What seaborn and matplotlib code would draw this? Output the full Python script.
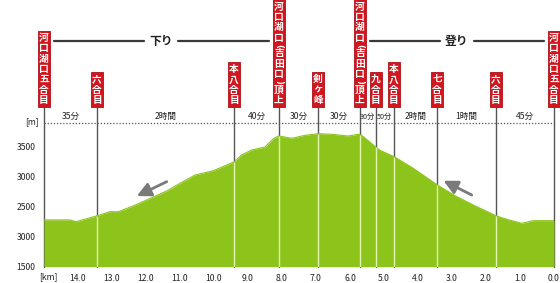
import numpy as np
import matplotlib
matplotlib.use("Agg")
import matplotlib.pyplot as plt
import matplotlib.patches as mpatches
import seaborn as sns
import pandas as pd

# ---------------- data ----------------
profile_km = [15.0, 14.24, 14.06, 13.43, 13.06, 12.81, 12.38, 11.39, 11.0, 10.56,
              10.02, 9.40, 9.19, 8.89, 8.50, 8.26, 8.16, 8.09, 7.76, 7.67, 7.32,
              6.93, 6.54, 6.05, 5.76, 5.66, 5.36, 5.12, 4.70, 4.14, 3.43, 2.86,
              2.27, 1.71, 1.39, 0.95, 0.61, 0.0]
profile_elev = [2280, 2280, 2250, 2350, 2417, 2417, 2512, 2762, 2890, 3028,
                3100, 3250, 3362, 3445, 3495, 3630, 3662, 3678, 3645, 3645, 3690,
                3717, 3707, 3678, 3707, 3690, 3550, 3440, 3333, 3140, 2862, 2667,
                2500, 2350, 2290, 2223, 2267, 2267]

station_km = [15.0, 13.44, 9.41, 8.09, 6.94, 5.71, 5.24, 4.71, 3.44, 1.71, 0.0]
station_names = ["河口湖口五合目", "六合目", "本八合目", "河口湖口(吉田口)頂上", "剣ヶ峰",
                 "河口湖口(吉田口)頂上", "九合目", "本八合目", "七合目", "六合目", "河口湖口五合目"]
segment_times = ["35分", "2時間", "40分", "30分", "30分", "30分", "50分", "2時間", "1時間", "45分"]

direction_labels = ["下り", "登り"]
direction_spans = [(0, 3), (5, 10)]  # station index ranges

arrow_tail_km = [11.39, 2.42]
arrow_tail_elev = [2917, 2695]
arrow_head_km = [12.27, 3.25]
arrow_head_elev = [2678, 2933]

y_ticks = [1500, 2000, 2500, 3000, 3500]
y_tick_labels = ["1500", "3000", "2500", "3000", "3500"]
x_ticks = list(range(0, 15))
x_tick_labels = [f"{v:.1f}" for v in x_ticks]

# ---------------- style ----------------
sns.set_theme(style="white")
plt.rcParams['font.family'] = ['Noto Sans CJK JP', 'DejaVu Sans']

GREEN = "#8cc41c"
PALE = "#e4f3b0"
RED = "#d0161e"
DARK = "#3a3a3a"

W, H = 560, 283
AX_L, AX_R, AX_T, AX_B = 44.0, 554.0, 122.7, 266.7
fig = plt.figure(figsize=(W / 100, H / 100), dpi=100)
ax = fig.add_axes([AX_L / W, (H - AX_B) / H, (AX_R - AX_L) / W, (AX_B - AX_T) / H])
ax.set_xlim(15, 0)
ax.set_ylim(1500, 3900)
for s in ax.spines.values():
    s.set_visible(False)

def ypx(p):
    return (AX_B - p) / (AX_B - AX_T)

xt = ax.get_xaxis_transform()
KM_PER_PX = 15.0 / (AX_R - AX_L)

df = pd.DataFrame({"km": profile_km, "elev": profile_elev})

# dark station lines (full height, under the fill)
SIGN_BOTTOM = 107.3
for k in station_km:
    ax.plot([k, k], [0, ypx(SIGN_BOTTOM)], transform=xt, color="#555555", lw=1.0,
            clip_on=False, zorder=1)

# profile
ax.fill_between(df["km"], 1500, df["elev"], color=GREEN, lw=0, zorder=2)
sns.lineplot(data=df, x="km", y="elev", color=GREEN, lw=0.8, ax=ax, zorder=3, sort=False)

# pale lines inside the green
inner = [k for k in station_km if 0 < k < 15]
tops = np.interp(inner, df["km"][::-1], df["elev"][::-1])
ax.vlines(inner, 1500, tops, color=PALE, lw=1.0, zorder=4)

# dotted top line
ax.axhline(3900, color="#555555", lw=0.9, ls=(0, (1, 1.5)), zorder=5, clip_on=False)

# arrows
for tk, te, hk, he in zip(arrow_tail_km, arrow_tail_elev, arrow_head_km, arrow_head_elev):
    ax.annotate("", xy=(hk, he), xytext=(tk, te),
                arrowprops=dict(arrowstyle="-|>,head_length=0.7,head_width=0.35",
                                color="#7a7a7a", lw=2.0, shrinkA=0, shrinkB=0), zorder=6)

# signs (vertical text, one character per row; brackets turned for vertical writing)
PAD, STEP = 2.0, 10.4
w_km = 12 * KM_PER_PX
for name, k in zip(station_names, station_km):
    steps = [0.5 if c in "()" else 1.0 for c in name]
    h = sum(steps) * STEP + 2 * PAD
    top = SIGN_BOTTOM - h
    rect = mpatches.Rectangle((k - w_km / 2, ypx(SIGN_BOTTOM)), w_km, h / (AX_B - AX_T),
                              transform=xt, clip_on=False, fc=RED, ec="#b01018", lw=0.6,
                              zorder=7)
    ax.add_patch(rect)
    cur = top + PAD
    for c, s in zip(name, steps):
        if c in "()":
            ax.text(k, ypx(cur + s * STEP / 2), c, transform=xt, ha="center",
                    va="center", rotation=-90, rotation_mode="anchor", color="white",
                    fontsize=6, fontweight="bold", clip_on=False, zorder=8,
                    family=["DejaVu Sans"])
        else:
            ax.text(k, ypx(cur + s * STEP / 2), c, transform=xt, ha="center", va="center",
                    color="white", fontsize=7, fontweight="bold", clip_on=False, zorder=8)
        cur += s * STEP

# segment times
for i, t in enumerate(segment_times):
    a, b = station_km[i], station_km[i + 1]
    fs = 5.2 if abs(a - b) < 0.6 else 6.2
    ax.text((a + b) / 2, ypx(116.7), t, transform=xt, ha="center", va="center",
            fontsize=fs, color="#222222", clip_on=False)

# direction headers
for lab, (i0, i1) in zip(direction_labels, direction_spans):
    a, b = station_km[i0], station_km[i1]
    c = (a + b) / 2
    yv = ypx(41.3)
    ax.plot([a - 0.3, c + 0.5], [yv, yv], transform=xt, color=DARK, lw=1.6, clip_on=False)
    ax.plot([c - 0.5, b + 0.3], [yv, yv], transform=xt, color=DARK, lw=1.6, clip_on=False)
    ax.text(c, yv, lab, transform=xt, ha="center", va="center", fontsize=8.5,
            fontweight="bold", color="#222222", clip_on=False)

# axes ticks
ax.set_yticks(y_ticks)
ax.set_yticklabels(y_tick_labels)
ax.set_xticks(x_ticks)
ax.set_xticklabels(x_tick_labels)
ax.tick_params(axis="y", length=0, pad=6, labelsize=6.2, labelcolor="#222222")
ax.tick_params(axis="x", direction="in", length=7, width=1, color="#333333",
               pad=5, labelsize=6.2, labelcolor="#222222")
for tl in ax.get_xticklines():
    tl.set_zorder(9)
ax.set_xlabel("")
ax.set_ylabel("")
ax.text(48.5 / W, (H - 277) / H, "[km]", transform=fig.transFigure, ha="center",
        va="center", fontsize=6.2, color="#222222")
ax.text(32 / W, (H - 122) / H, "[m]", transform=fig.transFigure, ha="center",
        va="center", fontsize=6.2, color="#222222")

fig.savefig("out.png", dpi=100)
